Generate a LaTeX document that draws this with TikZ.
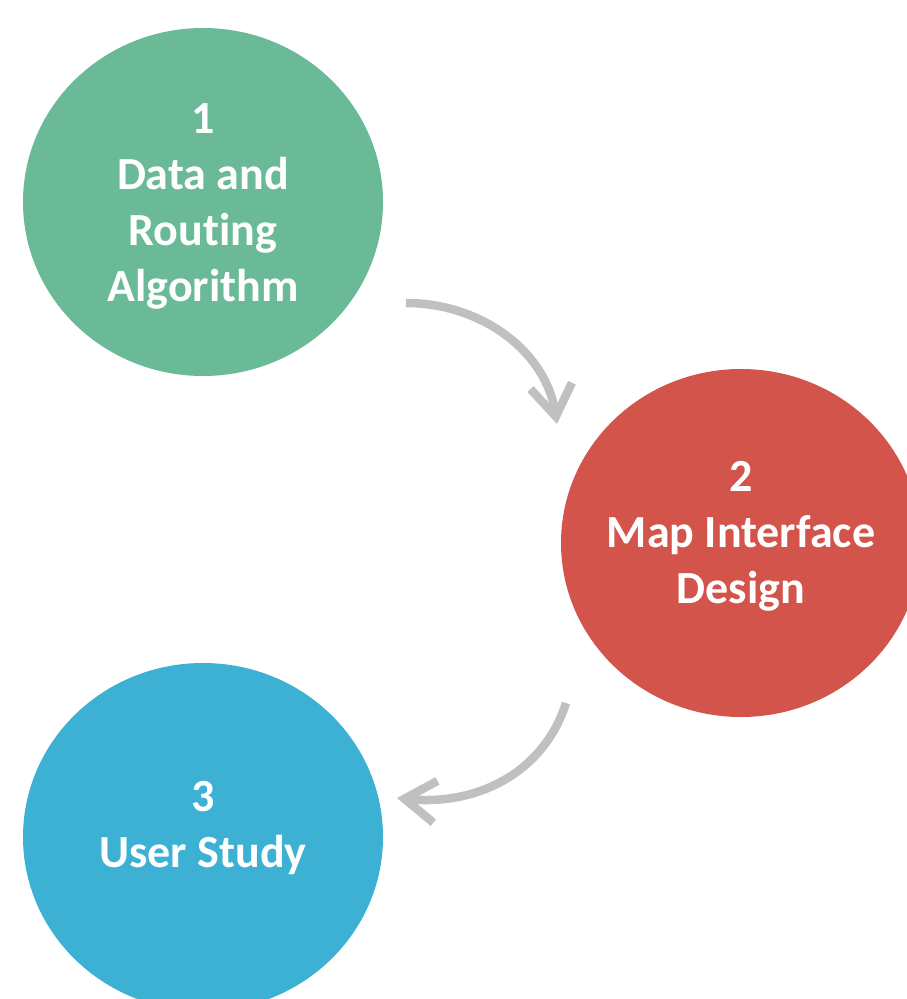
\documentclass[tikz,border=0pt]{standalone}
\usepackage{fontspec}
\setmainfont{Carlito}[Ligatures=NoCommon]
\usetikzlibrary{shapes.geometric, arrows.meta}

\definecolor{stagegreen}{HTML}{6BBA97}
\definecolor{stagered}{HTML}{D2544B}
\definecolor{stageblue}{HTML}{3CB1D3}
\definecolor{flowgray}{HTML}{C0C0C0}

\tikzset{
  x=1pt, y=-1pt,
  stage/.style={ellipse, minimum width=360pt, minimum height=348pt, inner sep=0pt},
  stagetext/.style={text=white, align=center, font=\fontsize{46}{56}\selectfont\bfseries},
  flow/.style={draw=flowgray, line width=8.5pt, -{Straight Barb[length=31pt, width=42pt]}},
}

\begin{document}
\begin{tikzpicture}
        \useasboundingbox (0,0) rectangle (907,999);
        \clip (0,0) rectangle (907,999);

        % stages
        \node[stage, fill=stagegreen] (s1) at (203,202) {};
        \node[stage, fill=stagered] (s2) at (741,543) {};
        \node[stage, fill=stageblue] (s3) at (203,837) {};

        \node[stagetext] (t1) at (203,206) {1\\Data and\\Routing\\Algorithm};
        \node[stagetext] (t2) at (741,536) {2\\Map Interface\\Design};
        \node[stagetext] (t3) at (203,828) {3\\User Study};

        % arrows
        \coordinate (a1) at (406,303);
        \coordinate (b1) at (557,424);
        \coordinate (a2) at (566,703);
        \coordinate (b2) at (397,798);

        \draw[flow] (a1) .. controls (482,303) and (546,352) .. (b1);
        \draw[flow] (a2) .. controls (544,772) and (478,806) .. (b2);

      \end{tikzpicture}
\end{document}
